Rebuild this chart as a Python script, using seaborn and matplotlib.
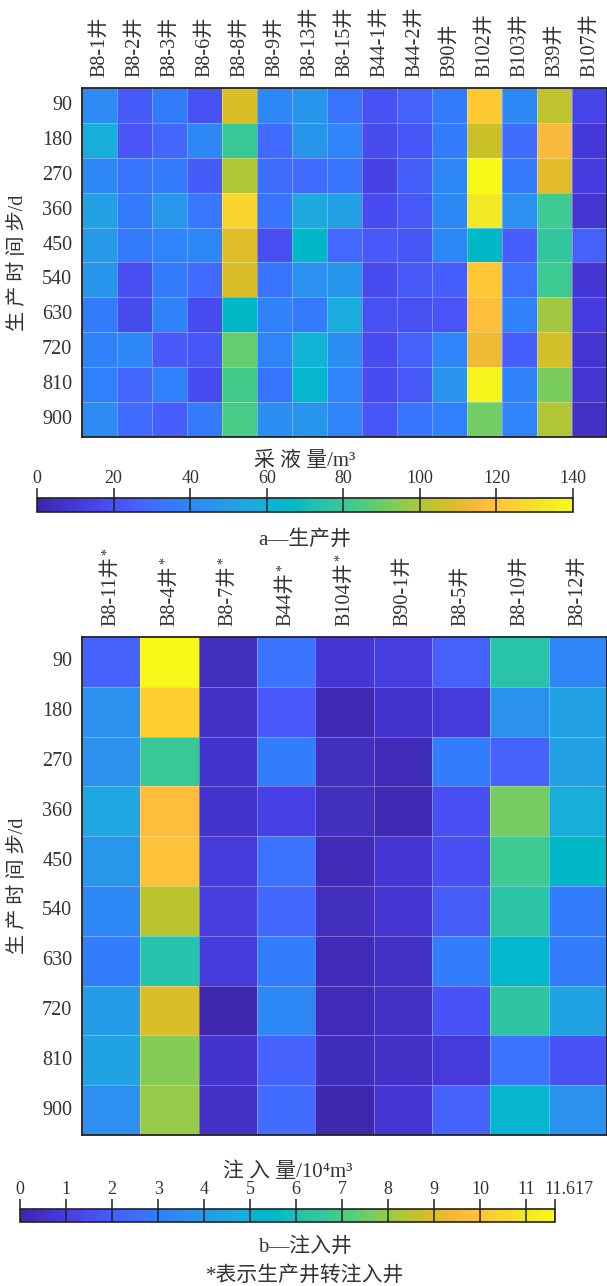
import numpy as np
import pandas as pd
import matplotlib
matplotlib.use("Agg")
import matplotlib.pyplot as plt
import seaborn as sns
from matplotlib.colors import LinearSegmentedColormap
from matplotlib.transforms import ScaledTranslation

sns.set_style("white")
plt.rcParams['font.family'] = ['Liberation Serif', 'DejaVu Serif', 'Noto Sans CJK SC']
plt.rcParams['font.weight'] = 'light'

# ---------------- data ----------------
time_steps = [90, 180, 270, 360, 450, 540, 630, 720, 810, 900]

prod_wells = ["B8-1井", "B8-2井", "B8-3井", "B8-6井", "B8-8井", "B8-9井", "B8-13井",
              "B8-15井", "B44-1井", "B44-2井", "B90井", "B102井", "B103井", "B39井", "B107井"]

prod_values = [
    [42, 24, 36, 20, 108, 40, 46, 33, 20, 26, 35, 122, 41, 103, 15],
    [58, 21, 28, 41, 80, 30, 46, 39, 17, 22, 36, 105, 31, 115, 10],
    [41, 33, 35, 24, 101, 31, 30, 33, 14, 25, 41, 139, 35, 110, 11],
    [52, 35, 47, 34, 126, 33, 55, 52, 18, 23, 41, 133, 44, 82, 8],
    [48, 35, 39, 40, 109, 19, 64, 29, 23, 22, 41, 66, 25, 78, 26],
    [46, 19, 35, 30, 108, 33, 44, 46, 18, 23, 25, 121, 32, 81, 9],
    [36, 17, 38, 18, 66, 38, 35, 57, 20, 20, 21, 118, 38, 98, 11],
    [38, 40, 23, 22, 89, 39, 60, 43, 18, 26, 39, 113, 25, 107, 8],
    [37, 28, 37, 18, 83, 33, 63, 39, 18, 23, 45, 137, 38, 92, 8],
    [42, 30, 25, 35, 84, 43, 46, 39, 22, 33, 37, 91, 39, 101, 6],
]

inj_wells = ["B8-11井", "B8-4井", "B8-7井", "B44井", "B104井",
             "B90-1井", "B8-5井", "B8-10井", "B8-12井"]
inj_converted = [True, True, True, True, True, False, False, False, False]

inj_values = [
    [2.2, 11.5, 0.4, 2.7, 0.7, 1.0, 2.1, 6.2, 3.3],
    [3.7, 10.3, 0.5, 1.9, 0.2, 0.6, 0.9, 3.7, 4.3],
    [3.7, 6.6, 0.6, 3.0, 0.4, 0.3, 3.0, 2.2, 4.3],
    [4.5, 9.8, 0.6, 1.1, 0.4, 0.2, 1.6, 7.6, 4.8],
    [3.9, 9.9, 0.9, 2.7, 0.3, 0.7, 1.6, 6.8, 5.4],
    [3.4, 8.5, 1.0, 2.4, 0.4, 0.7, 2.0, 6.3, 3.0],
    [3.0, 6.1, 0.9, 3.0, 0.3, 0.5, 3.0, 5.3, 3.0],
    [4.1, 9.0, 0.1, 3.4, 0.3, 0.5, 1.7, 6.4, 4.4],
    [4.4, 7.8, 0.6, 2.2, 0.35, 0.5, 0.9, 2.7, 1.7],
    [3.6, 8.0, 0.5, 2.5, 0.1, 0.7, 2.2, 5.2, 3.7],
]

prod_ticks = [0, 20, 40, 60, 80, 100, 120, 140]
inj_ticks = [0, 1, 2, 3, 4, 5, 6, 7, 8, 9, 10, 11, 11.617]
inj_tick_labels = ["0", "1", "2", "3", "4", "5", "6", "7", "8", "9", "10", "11", "11.617"]

# ---------------- parula colormap ----------------
parula_data = [
    [0.2422, 0.1504, 0.6603], [0.2504, 0.1650, 0.7076], [0.2578, 0.1818, 0.7511],
    [0.2647, 0.1978, 0.7952], [0.2706, 0.2147, 0.8364], [0.2751, 0.2342, 0.8710],
    [0.2783, 0.2559, 0.8991], [0.2803, 0.2782, 0.9221], [0.2813, 0.3006, 0.9414],
    [0.2810, 0.3228, 0.9579], [0.2795, 0.3447, 0.9717], [0.2760, 0.3667, 0.9829],
    [0.2699, 0.3892, 0.9906], [0.2602, 0.4123, 0.9952], [0.2440, 0.4358, 0.9988],
    [0.2206, 0.4603, 0.9973], [0.1963, 0.4847, 0.9892], [0.1834, 0.5074, 0.9798],
    [0.1786, 0.5289, 0.9682], [0.1764, 0.5499, 0.9520], [0.1687, 0.5703, 0.9359],
    [0.1540, 0.5902, 0.9218], [0.1460, 0.6091, 0.9079], [0.1380, 0.6276, 0.8973],
    [0.1248, 0.6459, 0.8883], [0.1113, 0.6635, 0.8763], [0.0952, 0.6798, 0.8598],
    [0.0689, 0.6948, 0.8394], [0.0297, 0.7082, 0.8163], [0.0036, 0.7203, 0.7917],
    [0.0067, 0.7312, 0.7660], [0.0433, 0.7411, 0.7394], [0.0964, 0.7500, 0.7120],
    [0.1408, 0.7584, 0.6842], [0.1717, 0.7670, 0.6554], [0.1938, 0.7758, 0.6251],
    [0.2161, 0.7843, 0.5923], [0.2470, 0.7918, 0.5567], [0.2906, 0.7973, 0.5188],
    [0.3406, 0.8008, 0.4789], [0.3909, 0.8029, 0.4354], [0.4456, 0.8024, 0.3909],
    [0.5044, 0.7993, 0.3480], [0.5616, 0.7942, 0.3045], [0.6174, 0.7876, 0.2612],
    [0.6720, 0.7793, 0.2227], [0.7242, 0.7698, 0.1910], [0.7738, 0.7598, 0.1646],
    [0.8203, 0.7498, 0.1535], [0.8634, 0.7406, 0.1596], [0.9035, 0.7330, 0.1774],
    [0.9393, 0.7288, 0.2100], [0.9728, 0.7298, 0.2394], [0.9956, 0.7434, 0.2371],
    [0.9970, 0.7659, 0.2199], [0.9952, 0.7893, 0.2028], [0.9892, 0.8136, 0.1885],
    [0.9786, 0.8386, 0.1766], [0.9676, 0.8639, 0.1643], [0.9610, 0.8890, 0.1537],
    [0.9597, 0.9135, 0.1423], [0.9628, 0.9373, 0.1265], [0.9691, 0.9606, 0.1064],
    [0.9769, 0.9839, 0.0805],
]
parula = LinearSegmentedColormap.from_list("parula", parula_data, N=256)

FS_TICK = 14.5
FS_CB = 13
FS_CJK = 15
grid_col = (1, 1, 1, 0.3)
dark = "#222222"
txt_col = "#333333"

fig = plt.figure(figsize=(6.07, 12.86), dpi=100)


def draw_heat(ax, values, cols, vmax):
    df = pd.DataFrame(values, index=time_steps, columns=cols)
    sns.heatmap(df, ax=ax, cmap=parula, vmin=0, vmax=vmax, cbar=False,
                linewidths=0.6, linecolor=grid_col)
    ax.xaxis.tick_top()
    ax.set_xticklabels(cols, rotation=90, fontsize=FS_TICK, color=txt_col)
    ax.set_yticklabels([str(t) for t in time_steps], rotation=0, fontsize=FS_TICK,
                       color=txt_col)
    ax.tick_params(axis="y", length=0, pad=7)
    ax.tick_params(axis="x", length=0, pad=8)
    ax.set_ylabel("生 产 时 间 步/d", fontsize=FS_TICK, labelpad=10, color=txt_col)
    ax.set_xlabel("")
    for s in ax.spines.values():
        s.set_visible(True)
        s.set_linewidth(1.3)
        s.set_color(dark)
    return ax.collections[0]


def draw_cbar(cax, mappable, ticks, labels, label):
    cb = fig.colorbar(mappable, cax=cax, orientation="horizontal")
    cb.set_ticks(ticks)
    cb.set_ticklabels(labels)
    cax.xaxis.set_ticks_position("top")
    cax.xaxis.set_label_position("top")
    cax.tick_params(axis="x", direction="out", length=7, width=1.1, pad=1,
                    labelsize=FS_CB, color=dark, labelcolor=txt_col)
    for t in ticks:
        cax.axvline(t, color=dark, lw=1.1)
    cb.outline.set_linewidth(1.2)
    cb.outline.set_edgecolor(dark)
    cb.set_label(label, fontsize=FS_CJK, labelpad=3, color=txt_col)
    return cb


# top heatmap: production wells
ax1 = fig.add_axes([0.1351, 0.6602, 0.8649, 0.2714])
m1 = draw_heat(ax1, prod_values, prod_wells, 140)
cax1 = fig.add_axes([0.061, 0.6019, 0.883, 0.0109])
draw_cbar(cax1, m1, prod_ticks, [str(t) for t in prod_ticks], "采 液 量/m³")
fig.text(0.5025, 0.580, "a—生产井", ha="center", va="center", fontsize=FS_CJK,
         color=txt_col)

# bottom heatmap: injection wells
ax2 = fig.add_axes([0.1351, 0.1174, 0.8649, 0.3873])
m2 = draw_heat(ax2, inj_values, inj_wells, 11.617)
cax2 = fig.add_axes([0.033, 0.0498, 0.881, 0.0101])
cb2 = draw_cbar(cax2, m2, inj_ticks, inj_tick_labels, "注 入 量/10⁴m³")
last = cax2.get_xticklabels()[-1]
last.set_horizontalalignment("left")
last.set_transform(last.get_transform() + ScaledTranslation(-10 / 100, 0, fig.dpi_scale_trans))
fig.text(0.5025, 0.0303, "b—注入井", ha="center", va="center", fontsize=FS_CJK,
         color=txt_col)
fig.text(0.5025, 0.0078, "*表示生产井转注入井", ha="center", va="center",
         fontsize=FS_CJK, color=txt_col)

# asterisks marking production wells converted to injection wells
fig.canvas.draw()
renderer = fig.canvas.get_renderer()
W, H = fig.bbox.width, fig.bbox.height
for lbl, conv in zip(ax2.get_xticklabels(), inj_converted):
    if conv:
        bb = lbl.get_window_extent(renderer)
        fig.text((bb.x0 - 1) / W, (bb.y1 + 1) / H, "*", rotation=90,
                 ha="left", va="bottom", fontsize=10, color=txt_col)

fig.savefig("out.png", dpi=100)
